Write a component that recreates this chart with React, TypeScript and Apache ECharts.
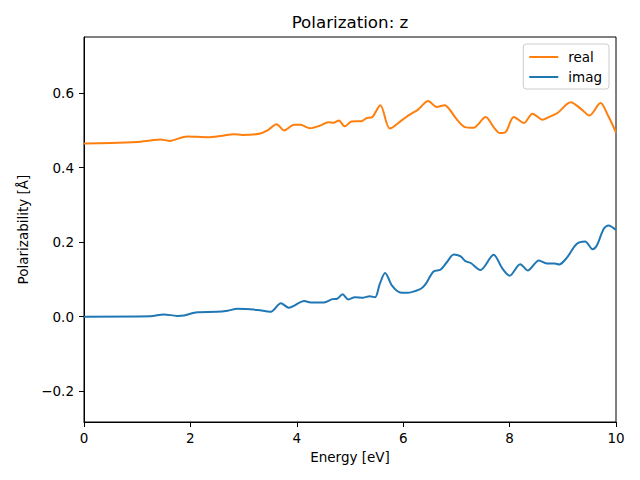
import React, { useEffect, useRef } from "react";
import * as echarts from "echarts";

const realX = [0, 0.5, 1.0, 1.25, 1.44, 1.6, 1.94, 2.32, 2.6, 2.82, 2.98, 3.29, 3.45, 3.62, 3.76, 3.95, 4.07, 4.25, 4.42, 4.6, 4.7, 4.79, 4.9, 5.03, 5.22, 5.31, 5.42, 5.57, 5.75, 5.97, 6.13, 6.28, 6.47, 6.63, 6.78, 6.88, 7.0, 7.16, 7.32, 7.55, 7.7, 7.82, 7.92, 8.08, 8.27, 8.43, 8.62, 8.77, 8.9, 9.15, 9.34, 9.5, 9.71, 9.85, 10.0];
const realY = [0.465, 0.466, 0.469, 0.473, 0.476, 0.472, 0.484, 0.482, 0.486, 0.490, 0.488, 0.491, 0.500, 0.517, 0.500, 0.515, 0.515, 0.506, 0.512, 0.522, 0.521, 0.527, 0.511, 0.524, 0.525, 0.533, 0.536, 0.568, 0.505, 0.527, 0.543, 0.556, 0.579, 0.563, 0.568, 0.555, 0.531, 0.509, 0.507, 0.536, 0.509, 0.493, 0.495, 0.536, 0.520, 0.545, 0.529, 0.538, 0.547, 0.576, 0.558, 0.540, 0.574, 0.540, 0.495];

const imagX = [0, 1.25, 1.5, 1.75, 1.88, 2.13, 2.5, 2.7, 2.88, 3.26, 3.51, 3.7, 3.85, 4.14, 4.26, 4.51, 4.67, 4.76, 4.86, 4.97, 5.09, 5.25, 5.37, 5.47, 5.56, 5.66, 5.79, 5.94, 6.07, 6.32, 6.41, 6.57, 6.7, 6.82, 6.95, 7.08, 7.17, 7.27, 7.45, 7.7, 7.86, 8.0, 8.2, 8.34, 8.55, 8.7, 8.85, 8.93, 9.07, 9.26, 9.42, 9.56, 9.64, 9.77, 9.86, 10.0];
const imagY = [0, 0.001, 0.006, 0.002, 0.003, 0.012, 0.013, 0.016, 0.021, 0.018, 0.013, 0.036, 0.024, 0.042, 0.038, 0.038, 0.047, 0.048, 0.060, 0.046, 0.052, 0.051, 0.055, 0.052, 0.088, 0.117, 0.083, 0.065, 0.064, 0.074, 0.085, 0.121, 0.126, 0.146, 0.167, 0.162, 0.149, 0.144, 0.125, 0.166, 0.130, 0.110, 0.141, 0.124, 0.151, 0.143, 0.143, 0.140, 0.157, 0.195, 0.202, 0.181, 0.191, 0.236, 0.245, 0.233];

const yTicks = [-0.2, 0, 0.2, 0.4, 0.6];
const xTicks = [0, 2, 4, 6, 8, 10];

const FONT = "DejaVu Sans";

function fmt(v: number): string {
  const s = Number(v).toFixed(1);
  return v < 0 ? "\u2212" + s.slice(1) : s;
}

export default function App() {
  const ref = useRef<HTMLDivElement>(null);
  useEffect(() => {
    if (!ref.current) return;
    const chart = echarts.init(ref.current, null, { renderer: "svg" });
    chart.setOption({
      animation: false,
      backgroundColor: "#ffffff",
      graphic: [
        {
          type: "text",
          x: 350,
          y: 22,
          style: {
            text: "Polarization: z",
            fontFamily: FONT,
            fontSize: 16.7,
            fill: "#000",
            align: "center",
            verticalAlign: "middle",
          },
        },
      ],
      legend: {
        orient: "vertical",
        right: 31,
        top: 44,
        padding: [6, 7, 5, 6],
        itemGap: 6,
        itemWidth: 29,
        itemHeight: 2,
        icon: "rect",
        backgroundColor: "#fff",
        borderColor: "#cccccc",
        borderWidth: 1,
        borderRadius: 3,
        textStyle: { fontFamily: FONT, fontSize: 13.5, color: "#000", padding: [0, 0, 0, 5] },
        data: [
          { name: "real", itemStyle: { color: "#ff7f0e" } },
          { name: "imag", itemStyle: { color: "#1f77b4" } },
        ],
      },
      grid: {
        left: 84,
        right: 24,
        top: 37,
        bottom: 58,
        show: true,
        borderColor: "#000",
        borderWidth: 1,
        backgroundColor: "transparent",
      },
      xAxis: {
        type: "value",
        min: 0,
        max: 10,
        interval: 2,
        name: "Energy [eV]",
        nameLocation: "middle",
        nameGap: 28,
        nameTextStyle: { fontFamily: FONT, fontSize: 13.5, color: "#000" },
        axisLine: { show: true, onZero: false, lineStyle: { color: "#000", width: 1 } },
        axisTick: { show: true, length: 5, lineStyle: { color: "#000" }, customValues: xTicks },
        axisLabel: { fontFamily: FONT, fontSize: 13.5, color: "#000", margin: 9, customValues: xTicks, formatter: (v: number) => String(v) },
        splitLine: { show: false },
      },
      yAxis: {
        type: "value",
        min: -0.283,
        max: 0.751,
        name: "Polarizability [\u00c5]",
        nameLocation: "middle",
        nameGap: 52,
        nameTextStyle: { fontFamily: FONT, fontSize: 13.5, color: "#000" },
        axisLine: { show: true, onZero: false, lineStyle: { color: "#000", width: 1 } },
        axisTick: { show: true, length: 5, lineStyle: { color: "#000" }, customValues: yTicks },
        axisLabel: { fontFamily: FONT, fontSize: 13.5, color: "#000", margin: 10, customValues: yTicks, formatter: (v: number) => fmt(v) },
        splitLine: { show: false },
      },
      series: [
        {
          name: "real",
          type: "line",
          data: realX.map((x, i) => [x, realY[i]]),
          showSymbol: false,
          symbol: "none",
          smooth: 0.3,
          lineStyle: { color: "#ff7f0e", width: 2 },
          itemStyle: { color: "#ff7f0e" },
        },
        {
          name: "imag",
          type: "line",
          data: imagX.map((x, i) => [x, imagY[i]]),
          showSymbol: false,
          symbol: "none",
          smooth: 0.3,
          lineStyle: { color: "#1f77b4", width: 2 },
          itemStyle: { color: "#1f77b4" },
        },
      ],
    });
    return () => chart.dispose();
  }, []);
  return <div ref={ref} style={{ width: 640, height: 480, position: "absolute", left: 0, top: 0 }} />;
}
